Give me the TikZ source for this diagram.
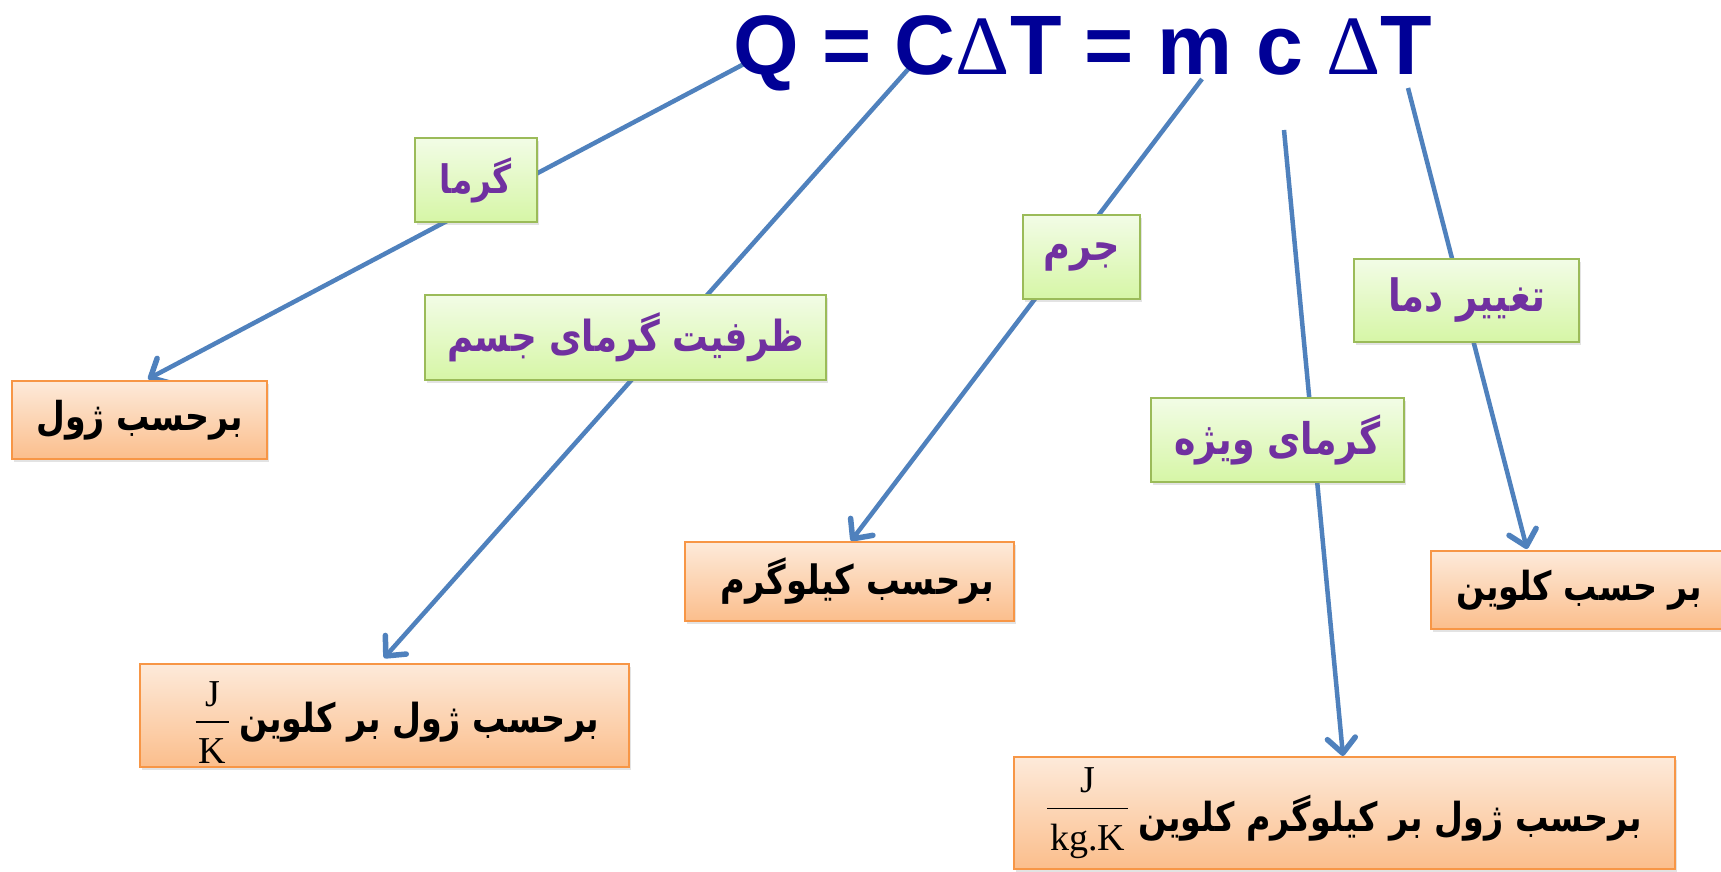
\documentclass[tikz,border=0pt]{standalone}
\usepackage{fontspec}
\usepackage{graphicx}
\usetikzlibrary{arrows.meta,shadows,calc}
\setmainfont{Liberation Serif}
\newfontfamily\fafont[Script=Arabic]{DejaVu Sans}
\newfontfamily\eqfont{Liberation Sans}
\newfontfamily\timesf{Liberation Serif}
\TeXXeTstate=1
\definecolor{eqblue}{RGB}{0,0,150}
\definecolor{lineblue}{RGB}{79,129,189}
\definecolor{gborder}{RGB}{155,187,89}
\definecolor{gtop}{RGB}{242,252,230}
\definecolor{gbot}{RGB}{214,246,166}
\definecolor{oborder}{RGB}{247,150,70}
\definecolor{otop}{RGB}{253,234,218}
\definecolor{obot}{RGB}{251,190,140}
\definecolor{lblpurple}{RGB}{112,48,160}
% #1 width in pt, #2 right-to-left text (wrapped in \beginR ... \endR by the caller)
\newcommand\fa[2]{\scalebox{1}[1.2]{\resizebox{#1pt}{!}{\fafont\bfseries #2}}}
\newcommand\ufrac[2]{{\timesf\fontsize{38}{42}\selectfont\setlength\arrayrulewidth{1.6pt}\begin{tabular}{@{\hspace{3pt}}c@{\hspace{3pt}}}\rule[-15pt]{0pt}{0pt}#1\\\hline\rule{0pt}{41pt}#2\end{tabular}}}
\pgfdeclarelayer{paper}
\pgfdeclarelayer{lines}
\pgfsetlayers{paper,lines,main}
\begin{document}
\begin{tikzpicture}[x=1pt,y=-1pt,
  gbox/.style={draw=gborder, line width=1.5pt, top color=gtop, bottom color=gbot,
    drop shadow={shadow xshift=2pt, shadow yshift=-3pt, opacity=0.22},
    inner sep=0pt, outer sep=0pt, text=lblpurple},
  obox/.style={draw=oborder, line width=1.5pt, top color=otop, bottom color=obot,
    drop shadow={shadow xshift=2pt, shadow yshift=-3pt, opacity=0.22},
    inner sep=0pt, outer sep=0pt, text=black},
  intext/.style={inner sep=0pt, outer sep=0pt, text=black},
  conn/.style={draw=lineblue, line width=4.5pt,
    -{Straight Barb[length=15pt,width=28pt,line width=5.5pt,round]}}]
\begin{pgfonlayer}{paper}
\fill[white] (0,0) rectangle (1721,872);
\end{pgfonlayer}
\useasboundingbox (0,0) rectangle (1721,872);

% equation
\node[anchor=base west, inner sep=0pt, text=eqblue] (eq) at (733,75)
  {\resizebox{699pt}{!}{\eqfont\bfseries Q = C{\timesf\mdseries Δ}T = m c {\timesf\mdseries Δ}T}};

% green labels
\node[gbox, minimum width=122pt, minimum height=84pt] (g1) at (476,180) {\fa{72}{\beginR گرما\endR}};
\node[gbox, minimum width=401pt, minimum height=85pt] (g2) at (625.5,337.5) {\fa{357}{\beginR ظرفیت گرمای جسم\endR}};
\node[gbox, minimum width=117pt, minimum height=84pt] (g3) at (1081.5,257) {\fa{76}{\beginR جرم\endR}};
\node[gbox, minimum width=253pt, minimum height=84pt] (g4) at (1277.5,440) {\fa{206}{\beginR گرمای ویژه\endR}};
\node[gbox, minimum width=225pt, minimum height=83pt] (g5) at (1466.5,300.5) {\fa{157}{\beginR تغییر دما\endR}};

% orange unit boxes
\node[obox, minimum width=255pt, minimum height=78pt] (o1) at (139.5,420) {\fa{206}{\beginR برحسب ژول\endR}};
\node[obox, minimum width=489pt, minimum height=103pt] (o2) at (384.5,715.5) {};
\node[intext] (o2t) at ($(o2.center)+(13,11)$)
  {\ufrac{J}{K}\hspace{10pt}\fa{360}{\beginR برحسب ژول بر کلوین\endR}};
\node[obox, minimum width=329pt, minimum height=79pt] (o3) at (849.5,581.5) {\hspace{16pt}\fa{273}{\beginR برحسب کیلوگرم\endR}};
\node[obox, minimum width=661pt, minimum height=112pt] (o4) at (1344.5,813)
  {\ufrac{J}{kg.K}\hspace{10pt}\raisebox{-12pt}{\fa{503}{\beginR برحسب ژول بر کیلوگرم کلوین\endR}}};
\node[obox, minimum width=304pt, minimum height=78pt] (o5) at (1583,590) {\hspace{-8pt}\fa{246}{\beginR بر حسب کلوین\endR}};

% connector end points
\coordinate (s1) at (744,64);   \coordinate (e1) at (148,379);
\coordinate (s2) at (911,66);   \coordinate (e2) at (384,658);
\coordinate (s3) at (1202,79);  \coordinate (e3) at (851,541);
\coordinate (s4) at (1284,130); \coordinate (e4) at (1343,756);
\coordinate (s5) at (1408,88);  \coordinate (e5) at (1527,549);

\begin{pgfonlayer}{lines}
\draw[conn] (s1) -- (e1);
\draw[conn] (s2) -- (e2);
\draw[conn] (s3) -- (e3);
\draw[conn] (s4) -- (e4);
\draw[conn] (s5) -- (e5);
\end{pgfonlayer}
\end{tikzpicture}
\end{document}
